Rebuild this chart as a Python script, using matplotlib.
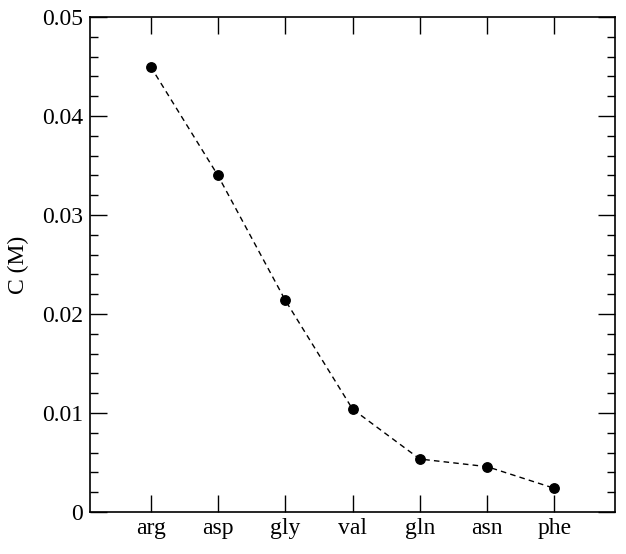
import matplotlib
matplotlib.use("Agg")
import matplotlib.pyplot as plt
from matplotlib.ticker import MultipleLocator

categories = ["arg", "asp", "gly", "val", "gln", "asn", "phe"]
conc = [0.0450, 0.0340, 0.0214, 0.0104, 0.00535, 0.00458, 0.00239]
ytick_values = [0, 0.01, 0.02, 0.03, 0.04, 0.05]
ytick_labels = ["0", "0.01", "0.02", "0.03", "0.04", "0.05"]

plt.rcParams['font.family'] = ['Liberation Serif', 'DejaVu Serif']

fig = plt.figure(figsize=(6.26, 5.54), dpi=100)
ax = fig.add_axes([90/626, 1 - 512/554, (615-90)/626, (512-17)/554])

x = list(range(1, len(categories) + 1))
ax.plot(x, conc, linestyle=(0, (4, 3)), color='black', linewidth=1.0,
        marker='o', markersize=6.8, markerfacecolor='black', markeredgecolor='black')

ax.set_xlim(0.1, 7.9)
ax.set_ylim(0, 0.05)
ax.set_xticks(x)
ax.set_xticklabels(categories)
ax.set_yticks(ytick_values)
ax.set_yticklabels(ytick_labels)
ax.yaxis.set_minor_locator(MultipleLocator(0.002))

ax.tick_params(axis='both', which='major', direction='in', length=12, width=1.0,
               labelsize=17, top=True, right=True, pad=5)
ax.tick_params(axis='x', which='major', pad=4)
ax.tick_params(axis='y', which='minor', direction='in', length=6, width=1.0, right=True)
for s in ax.spines.values():
    s.set_linewidth(1.2)

ax.set_ylabel("C (M)", fontsize=17, labelpad=9)

fig.savefig("out.png", dpi=100)
